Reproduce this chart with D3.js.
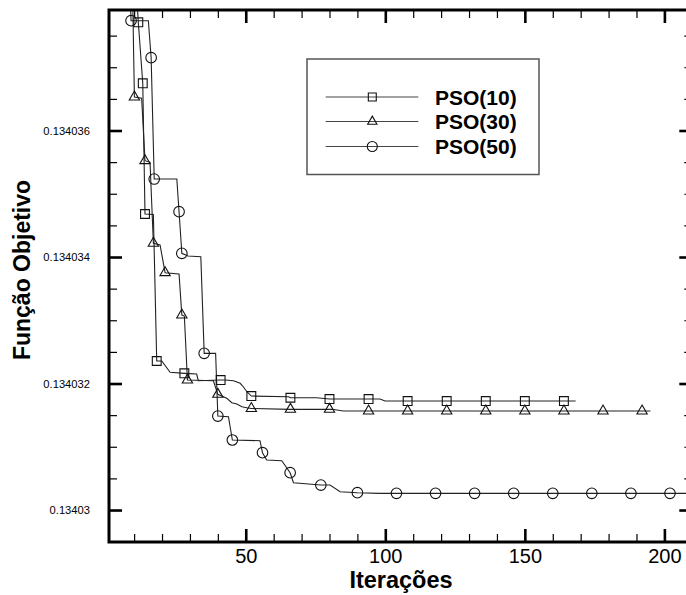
<!DOCTYPE html>
<html>
<head>
<meta charset="utf-8">
<script src="https://cdn.jsdelivr.net/npm/d3@7"></script>
<style>
  html, body { margin: 0; padding: 0; background: #fff; }
  svg { display: block; font-family: "Liberation Sans", Arial, Helvetica, sans-serif; }
</style>
</head>
<body>
<svg id="chart" width="686" height="595"></svg>
<script>
// Convergence of the objective function for three PSO swarm sizes.
// Each series: the step-like history of the best value, plus the points that carry a marker.

const seriesNames = ["PSO(10)", "PSO(30)", "PSO(50)"];

const pso10Line = [
  [10.7, 0.1340383], [11.5, 0.134037711], [13.1, 0.134036746], [13.9, 0.134034680],
  [16.9, 0.134034672], [18.1, 0.134032356], [19.9, 0.134032356], [22.9, 0.134032177],
  [28.0, 0.134032161], [32.4, 0.134032150], [33.0, 0.134032044], [41.0, 0.134032055],
  [42.6, 0.134032055], [45.6, 0.134032044], [48.0, 0.134032003], [49.1, 0.134031949],
  [50.4, 0.134031870], [52.0, 0.134031802], [65.3, 0.134031791], [66.0, 0.134031775],
  [75.4, 0.134031775], [80.0, 0.134031755], [98.1, 0.134031755], [99.9, 0.134031723],
  [168.2, 0.134031723]
];
const pso10Marks = [
  [11.5, 0.134037711], [13.1, 0.134036746], [13.9, 0.134034680], [18.1, 0.134032356],
  [28.0, 0.134032161], [41.0, 0.134032055], [52.0, 0.134031802], [66.0, 0.134031775],
  [80.0, 0.134031755], [94, 0.134031755], [108, 0.134031723], [122, 0.134031723],
  [136, 0.134031723], [150, 0.134031723], [164, 0.134031723]
];

const pso30Line = [
  [9.4, 0.1340383], [10.1, 0.134036530], [12.7, 0.134036509], [13.9, 0.134035523],
  [15.7, 0.134035497], [16.9, 0.134034217], [19.3, 0.134034190], [21.1, 0.134033752],
  [26.1, 0.134033731], [27.1, 0.134033083], [28.0, 0.134033067], [29.1, 0.134032055],
  [38.4, 0.134032044], [40.0, 0.134031829], [43.2, 0.134031766], [45.0, 0.134031696],
  [46.8, 0.134031676], [48.6, 0.134031633], [50.4, 0.134031617], [52.0, 0.134031605],
  [66.0, 0.134031592], [80.9, 0.134031592], [85.0, 0.134031565], [195.0, 0.134031565]
];
const pso30Marks = [
  [10.1, 0.134036530], [13.9, 0.134035523], [16.9, 0.134034217], [21.1, 0.134033752],
  [27.1, 0.134033083], [29.1, 0.134032055], [40.0, 0.134031829], [52.0, 0.134031605],
  [66.0, 0.134031592], [80.0, 0.134031592], [94, 0.134031565], [108, 0.134031565],
  [122, 0.134031565], [136, 0.134031565], [150, 0.134031565], [164, 0.134031565],
  [178, 0.134031565], [192, 0.134031565]
];

const pso50Line = [
  [8.5, 0.1340383], [8.9, 0.134037736], [15.1, 0.134037736], [16.1, 0.134037151],
  [17.2, 0.134035233], [25.3, 0.134035233], [26.1, 0.134034716], [27.1, 0.134034058],
  [29.3, 0.134034016], [33.9, 0.134034005], [35.1, 0.134032477], [39.2, 0.134032477],
  [40.0, 0.134031486], [43.8, 0.134031475], [45.2, 0.134031107], [55.1, 0.134031096],
  [56.0, 0.134030906], [57.5, 0.134030791], [62.9, 0.134030779], [65.9, 0.134030590],
  [67.1, 0.134030432], [76.9, 0.134030395], [80.2, 0.134030395], [83.8, 0.134030289],
  [90.0, 0.134030274], [98.1, 0.134030264], [210, 0.134030264]
];
const pso50Marks = [
  [8.9, 0.134037736], [16.1, 0.134037151], [17.2, 0.134035233], [26.1, 0.134034716],
  [27.1, 0.134034058], [35.1, 0.134032477], [40.0, 0.134031486], [45.2, 0.134031107],
  [56.0, 0.134030906], [65.9, 0.134030590], [76.9, 0.134030395], [90, 0.134030274],
  [104, 0.134030264], [118, 0.134030264], [132, 0.134030264], [146, 0.134030264],
  [160, 0.134030264], [174, 0.134030264], [188, 0.134030264], [202, 0.134030264]
];

const xTickValues = [50, 100, 150, 200];
const xMinorTicks = [10, 20, 30, 40, 60, 70, 80, 90, 110, 120, 130, 140, 160, 170, 180, 190];
const yTickValues = [0.13403, 0.134032, 0.134034, 0.134036];
const yTickLabels = ["0.13403", "0.134032", "0.134034", "0.134036"];
const yMinorTicks = [0.1340305, 0.134031, 0.1340315, 0.1340325, 0.134033, 0.1340335,
                     0.1340345, 0.134035, 0.1340355, 0.1340365, 0.134037, 0.1340375];

const xTitle = "Iterações";
const yTitle = "Função Objetivo";

// ---- layout ----
const svg = d3.select("#chart");
const plotLeft = 109, plotRight = 692.3, plotTop = 10, plotBottom = 542;

const x = d3.scaleLinear().domain([1, 210]).range([plotLeft, plotRight]);
const y = d3.scaleLinear().domain([0.1340294945, 0.1340379051]).range([plotBottom, plotTop]);

svg.append("defs").append("clipPath").attr("id", "plotClip")
  .append("rect").attr("x", plotLeft).attr("y", plotTop)
  .attr("width", plotRight - plotLeft).attr("height", plotBottom - plotTop);

// ---- axes (ticks point inward on all four sides) ----
function styleAxis(g, w) {
  g.select(".domain").remove();
  g.selectAll(".tick line").attr("stroke", "#000").attr("stroke-width", w);
}

svg.append("g").attr("transform", `translate(0,${plotBottom})`)
  .call(d3.axisBottom(x).tickValues(xTickValues).tickSizeInner(-13).tickSizeOuter(0).tickPadding(7))
  .call(g => styleAxis(g, 2.6))
  .call(g => g.selectAll(".tick text").attr("font-size", 20).attr("fill", "#000")
    .attr("font-family", "'Liberation Sans', Arial, sans-serif"));
svg.append("g").attr("transform", `translate(0,${plotBottom})`)
  .call(d3.axisBottom(x).tickValues(xMinorTicks).tickSize(-8).tickFormat(""))
  .call(g => styleAxis(g, 1.2));

svg.append("g").attr("transform", `translate(0,${plotTop})`)
  .call(d3.axisTop(x).tickValues(xTickValues).tickSize(-13).tickFormat(""))
  .call(g => styleAxis(g, 2.6));
svg.append("g").attr("transform", `translate(0,${plotTop})`)
  .call(d3.axisTop(x).tickValues(xMinorTicks).tickSize(-8).tickFormat(""))
  .call(g => styleAxis(g, 1.2));

svg.append("g").attr("transform", `translate(${plotLeft},0)`)
  .call(d3.axisLeft(y).tickValues(yTickValues).tickSizeInner(-13).tickSizeOuter(0).tickPadding(19)
    .tickFormat((d, i) => yTickLabels[i]))
  .call(g => styleAxis(g, 2.6))
  .call(g => g.selectAll(".tick text").attr("font-size", 11.2).attr("fill", "#000")
    .attr("font-family", "'Liberation Sans', Arial, sans-serif"));
svg.append("g").attr("transform", `translate(${plotLeft},0)`)
  .call(d3.axisLeft(y).tickValues(yMinorTicks).tickSize(-8).tickFormat(""))
  .call(g => styleAxis(g, 1.2));

svg.append("g").attr("transform", `translate(${plotRight},0)`)
  .call(d3.axisRight(y).tickValues(yTickValues).tickSize(-13).tickFormat(""))
  .call(g => styleAxis(g, 2.6));
svg.append("g").attr("transform", `translate(${plotRight},0)`)
  .call(d3.axisRight(y).tickValues(yMinorTicks).tickSize(-8).tickFormat(""))
  .call(g => styleAxis(g, 1.2));

// ---- series ----
const line = d3.line().x(d => x(d[0])).y(d => y(d[1]));
const plot = svg.append("g").attr("clip-path", "url(#plotClip)");

const series = [
  { name: seriesNames[0], line: pso10Line, marks: pso10Marks, shape: "square" },
  { name: seriesNames[1], line: pso30Line, marks: pso30Marks, shape: "triangle" },
  { name: seriesNames[2], line: pso50Line, marks: pso50Marks, shape: "circle" }
];

const symbolPath = {
  square: d3.symbol().type(d3.symbolSquare).size(78)(),
  triangle: d3.symbol().type(d3.symbolTriangle).size(46)()
};

function drawMarker(g, shape, cx, cy, scale) {
  if (shape === "circle") {
    g.append("circle").attr("cx", cx).attr("cy", cy).attr("r", 5.3 * scale)
      .attr("fill", "none").attr("stroke", "#111").attr("stroke-width", 1.1);
  } else {
    g.append("path").attr("d", symbolPath[shape])
      .attr("transform", `translate(${cx},${cy}) scale(${scale})`)
      .attr("fill", "none").attr("stroke", "#111").attr("stroke-width", 1.1 / scale);
  }
}

series.forEach(s => {
  plot.append("path").datum(s.line).attr("d", line)
    .attr("fill", "none").attr("stroke", "#222").attr("stroke-width", 1.1);
  const mg = svg.append("g");
  s.marks.forEach(d => drawMarker(mg, s.shape, x(d[0]), y(d[1]), 1));
});

// ---- frame ----
svg.append("rect").attr("x", plotLeft).attr("y", plotTop)
  .attr("width", plotRight - plotLeft).attr("height", plotBottom - plotTop)
  .attr("fill", "none").attr("stroke", "#000").attr("stroke-width", 3);

// ---- legend ----
const legend = svg.append("g");
legend.append("rect").attr("x", 307).attr("y", 59).attr("width", 232).attr("height", 115.5)
  .attr("fill", "#fff").attr("stroke", "#555").attr("stroke-width", 1.5);
const legendRows = [97, 121.5, 146.5];
series.forEach((s, i) => {
  const ly = legendRows[i];
  legend.append("line").attr("x1", 325.7).attr("x2", 418.3).attr("y1", ly).attr("y2", ly)
    .attr("stroke", "#444").attr("stroke-width", 1.1);
  drawMarker(legend, s.shape, 372.3, ly, i === 2 ? 0.95 : 0.9);
  legend.append("text").attr("x", 435).attr("y", ly + 7.5)
    .attr("font-size", 21).attr("font-weight", "bold").attr("fill", "#000")
    .text(s.name);
});

// ---- titles ----
svg.append("text").attr("x", 401).attr("y", 588).attr("text-anchor", "middle")
  .attr("font-size", 23.5).attr("font-weight", "bold").attr("fill", "#000").text(xTitle);
svg.append("text").attr("transform", "translate(30,270) rotate(-90)").attr("text-anchor", "middle")
  .attr("font-size", 23).attr("font-weight", "bold").attr("fill", "#000").text(yTitle);
</script>
</body>
</html>
